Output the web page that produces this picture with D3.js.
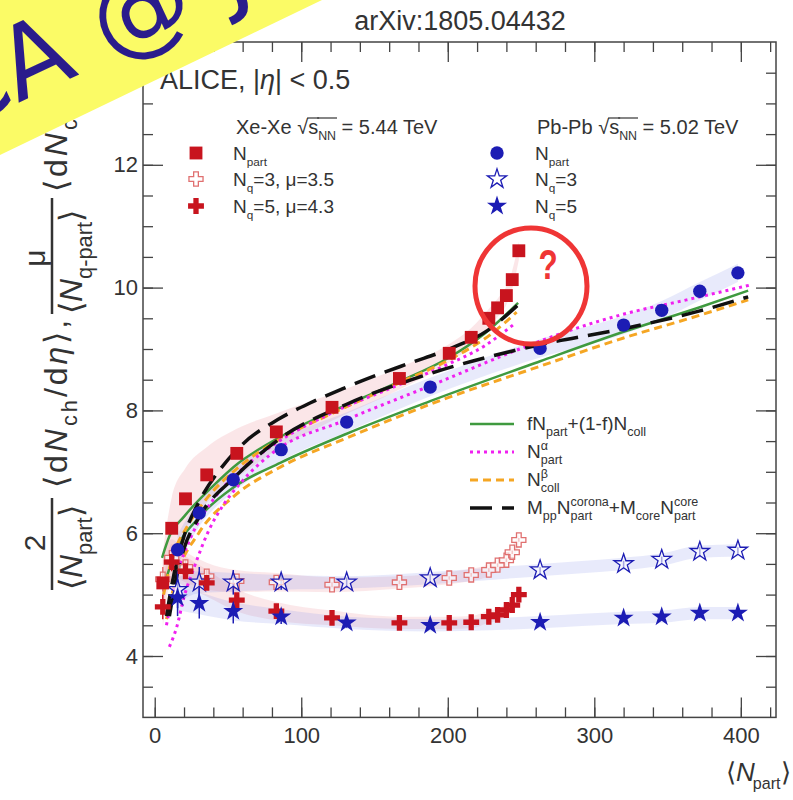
<!DOCTYPE html>
<html>
<head>
<meta charset="utf-8">
<script src="https://cdn.jsdelivr.net/npm/d3@7"></script>
<style>
  body { margin: 0; background: #fff; }
  text { font-family: "Liberation Sans", Arial, sans-serif; fill: #333; white-space: pre; }
</style>
</head>
<body>
<div id="chart"></div>
<script>
// ---- data ----
// Xe-Xe points (shared <Npart> for the three series)
const xeNpart = [5.5, 11.6, 21, 35.5, 56, 83, 121, 167, 201, 216, 228, 234, 240, 244, 248.5];
const xePart  = [5.19, 6.08, 6.56, 6.95, 7.3, 7.65, 8.05, 8.52, 8.93, 9.19, 9.5, 9.67, 9.87, 10.13, 10.6];
const xePartSys = [0.5, 0.5, 0.5, 0.45, 0.4, 0.3, 0.22, 0.18, 0.15, 0.15, 0.15, 0.15, 0.15, 0.15, 0.15];
const xeNq3   = [5.25, 5.6, 5.45, 5.3, 5.22, 5.2, 5.16, 5.2, 5.27, 5.32, 5.4, 5.48, 5.56, 5.69, 5.89];
const xeNq5   = [4.8, 5.53, 5.38, 5.19, 4.91, 4.73, 4.62, 4.54, 4.54, 4.55, 4.64, 4.67, 4.75, 4.83, 5.0];
const xeNqSys = [0.35, 0.3, 0.25, 0.22, 0.18, 0.15, 0.12, 0.1, 0.1, 0.1, 0.1, 0.1, 0.1, 0.1, 0.1];
const xeNqErr = [0.2, 0.15, 0.12, 0.1, 0.08, 0.06, 0.04, 0.03, 0.03, 0.03, 0.03, 0.03, 0.03, 0.03, 0.03];

// Pb-Pb points
const pbNpart = [15.6, 30.4, 53.6, 86.3, 131, 188, 263, 320, 346, 372, 398];
const pbPart  = [5.73, 6.33, 6.87, 7.36, 7.81, 8.38, 9.01, 9.39, 9.63, 9.94, 10.24];
const pbPartSys = [0.25, 0.22, 0.2, 0.18, 0.16, 0.15, 0.15, 0.15, 0.15, 0.15, 0.15];
const pbNq3   = [5.08, 5.2, 5.2, 5.2, 5.2, 5.27, 5.4, 5.5, 5.57, 5.7, 5.72];
const pbNq5   = [4.95, 4.86, 4.73, 4.64, 4.54, 4.5, 4.55, 4.62, 4.64, 4.7, 4.7];
const pbNqSys = [0.2, 0.18, 0.15, 0.12, 0.1, 0.1, 0.1, 0.1, 0.1, 0.1, 0.1];
const pbNqErr = [0.3, 0.25, 0.2, 0.12, 0.08, 0.06, 0.05, 0.05, 0.05, 0.08, 0.05];

// model curves
const pbGreenX  = [7, 15, 30, 54, 86, 131, 188, 263, 320, 372, 405];
const pbGreenY  = [5.2, 5.75, 6.25, 6.75, 7.15, 7.62, 8.15, 8.8, 9.28, 9.68, 9.95];
const pbMagX    = [10, 15, 20, 27, 37, 46, 59, 80, 131, 188, 249, 283, 322, 363, 406];
const pbMagY    = [4.15, 4.47, 4.96, 5.45, 6.05, 6.43, 6.83, 7.3, 7.85, 8.4, 9.0, 9.3, 9.58, 9.8, 10.04];
const pbOrangeX = [8, 15, 30, 54, 86, 131, 188, 263, 320, 372, 405];
const pbOrangeY = [4.6, 5.3, 6.0, 6.6, 7.08, 7.55, 8.1, 8.72, 9.18, 9.55, 9.8];
const pbBlackX  = [10, 15, 20, 30, 54, 86, 131, 188, 263, 320, 372, 405];
const pbBlackY  = [4.65, 5.3, 5.75, 6.25, 6.9, 7.55, 8.1, 8.6, 9.07, 9.33, 9.62, 9.85];

const xeGreenX  = [5, 10, 20, 39, 57, 70, 100, 130, 165, 200, 225, 248];
const xeGreenY  = [5.6, 5.95, 6.27, 6.75, 7.14, 7.35, 7.75, 8.08, 8.45, 8.85, 9.25, 9.75];
const xeMagX    = [8, 15, 25, 40, 60, 85, 120, 165, 200, 225, 245];
const xeMagY    = [4.5, 5.3, 5.95, 6.55, 7.05, 7.5, 7.95, 8.4, 8.75, 9.05, 9.4];
const xeOrangeX = [6, 12, 22, 35, 56, 83, 121, 167, 203, 230, 247];
const xeOrangeY = [5.0, 5.6, 6.1, 6.55, 7.05, 7.5, 7.95, 8.45, 8.85, 9.25, 9.6];
const xeBlackX  = [8, 12, 20, 30, 45, 60, 84, 106, 128, 151, 174, 201, 227, 248];
const xeBlackY  = [4.65, 5.2, 5.95, 6.5, 7.05, 7.45, 7.85, 8.12, 8.35, 8.57, 8.77, 9.0, 9.3, 9.72];

const xTicks = [0, 100, 200, 300, 400];
const yTicks = [4, 6, 8, 10, 12];

// ---- setup ----
const W = 793, H = 800;
const svg = d3.select('#chart').append('svg').attr('width', W).attr('height', H);

const x = d3.scaleLinear().domain([-8, 424]).range([143, 776]);
const y = d3.scaleLinear().domain([3, 14]).range([717.4, 42]);

const red = '#c8141e', blue = '#1c1cb4';

// text pieces laid out one after another (sub/superscripts, overlines)
function rich(g, x0, y0, parts, size, opt) {
  opt = opt || {};
  const ratio = opt.ratio || 0.62;
  let cx = x0, held = 0;
  parts.forEach(p => {
    const small = p.sub || p.sup;
    const fs = small ? size * ratio : size;
    const dy = p.sub ? size * 0.3 : (p.sup ? -size * 0.42 : 0);
    cx += p.dx || 0;
    const t = g.append('text').attr('x', cx).attr('y', y0 + dy)
      .attr('font-size', fs).text(p.t);
    if (opt.ls) t.attr('letter-spacing', opt.ls);
    if (p.it) t.attr('font-style', 'italic');
    const w = t.node().getComputedTextLength();
    if (p.over) {
      g.append('line').attr('x1', cx - 1).attr('x2', cx + w + 1)
        .attr('y1', y0 - size * 0.8).attr('y2', y0 - size * 0.8)
        .attr('stroke', '#333').attr('stroke-width', 1.2);
    }
    if (p.hold) { held = w; }
    else { cx += Math.max(w, held); held = 0; }
  });
  return cx;
}

// ---- bands ----
function band(xs, ys, errs, color) {
  const pts = xs.map((d, i) => [d, ys[i], errs[i]]);
  svg.append('path').datum(pts)
    .attr('fill', color)
    .attr('d', d3.area().curve(d3.curveMonotoneX)
      .x(d => x(d[0])).y0(d => y(d[1] - d[2])).y1(d => y(d[1] + d[2])));
}
band(xeNpart, xePart, xePartSys, 'rgba(235,140,150,0.22)');
band(pbNpart, pbPart, pbPartSys, 'rgba(140,150,235,0.2)');
band(xeNpart, xeNq3, xeNqSys, 'rgba(235,140,150,0.2)');
band(xeNpart, xeNq5, xeNqSys, 'rgba(235,140,150,0.2)');
band(pbNpart, pbNq3, pbNqSys, 'rgba(140,150,235,0.2)');
band(pbNpart, pbNq5, pbNqSys, 'rgba(140,150,235,0.2)');

// ---- model curves ----
const styles = {
  green:  { stroke: '#3f9a3f', w: 2.5, dash: null },
  mag:    { stroke: '#f020f0', w: 3, dash: '3,4' },
  orange: { stroke: '#f5a623', w: 3, dash: '8,5' },
  black:  { stroke: '#111', w: 3.5, dash: '22,10' }
};
function curve(xs, ys, st) {
  const pts = xs.map((d, i) => [d, ys[i]]);
  svg.append('path').datum(pts)
    .attr('fill', 'none').attr('stroke', st.stroke).attr('stroke-width', st.w)
    .attr('stroke-dasharray', st.dash)
    .attr('d', d3.line().curve(d3.curveMonotoneX).x(d => x(d[0])).y(d => y(d[1])));
}
curve(pbGreenX, pbGreenY, styles.green);
curve(xeGreenX, xeGreenY, styles.green);
curve(pbOrangeX, pbOrangeY, styles.orange);
curve(xeOrangeX, xeOrangeY, styles.orange);
curve(pbMagX, pbMagY, styles.mag);
curve(xeMagX, xeMagY, styles.mag);
curve(pbBlackX, pbBlackY, styles.black);
curve(xeBlackX, xeBlackY, styles.black);

// ---- markers ----
const mk = {
  square: d3.symbol().type(d3.symbolSquare).size(165)(),
  circle: d3.symbol().type(d3.symbolCircle).size(140)(),
  star:   d3.symbol().type(d3.symbolStar).size(125)(),
  ostar:  d3.symbol().type(d3.symbolStar).size(115)(),
  cross:  d3.symbol().type(d3.symbolCross).size(140)(),
  ocross: d3.symbol().type(d3.symbolCross).size(110)()
};
function errbars(xs, ys, errs, color) {
  svg.append('g').selectAll('line').data(xs).join('line')
    .attr('x1', d => x(d)).attr('x2', d => x(d))
    .attr('y1', (d, i) => y(ys[i] - errs[i])).attr('y2', (d, i) => y(ys[i] + errs[i]))
    .attr('stroke', color).attr('stroke-width', 1.5);
}
function points(xs, ys, shape, fill, stroke) {
  svg.append('g').selectAll('path').data(xs).join('path')
    .attr('d', mk[shape])
    .attr('transform', (d, i) => `translate(${x(d)},${y(ys[i])})`)
    .attr('fill', fill).attr('stroke', stroke || 'none').attr('stroke-width', 1.3);
}
errbars(pbNpart, pbNq3, pbNqErr, blue);
errbars(pbNpart, pbNq5, pbNqErr, blue);
errbars(xeNpart, xeNq3, xeNqErr, '#e07070');
errbars(xeNpart, xeNq5, xeNqErr, red);
points(xeNpart, xeNq3, 'ocross', 'rgba(255,255,255,0.6)', '#e07070');
points(pbNpart, pbNq3, 'ostar', 'rgba(255,255,255,0.6)', blue);
points(xeNpart, xeNq5, 'cross', red);
points(pbNpart, pbNq5, 'star', blue);
points(pbNpart, pbPart, 'circle', blue);
points(xeNpart, xePart, 'square', red);

// ---- frame and axes ----
const frame = svg.append('g');
frame.append('rect').attr('x', 143).attr('y', 42).attr('width', 633).attr('height', 675.4)
  .attr('fill', 'none').attr('stroke', '#444').attr('stroke-width', 1.5);

const xMinor = d3.range(0, 424, 20);
const yMinor = d3.range(3.5, 14, 0.5);
function ax(axis, tr, vals, size, labels) {
  const g = frame.append('g').attr('transform', tr)
    .call(axis.tickValues(vals).tickSizeInner(-size).tickSizeOuter(0)
      .tickPadding(labels ? 10 : 0).tickFormat(labels ? d3.format('d') : ''));
  g.select('.domain').remove();
  g.selectAll('line').attr('stroke', '#444').attr('stroke-width', 1.3);
  g.selectAll('text').attr('font-size', 22).attr('fill', '#333')
    .style('font-family', '"Liberation Sans", Arial, sans-serif');
  return g;
}
ax(d3.axisBottom(x), 'translate(0,717.4)', xMinor, 10, false);
ax(d3.axisBottom(x), 'translate(0,717.4)', xTicks, 20, true);
ax(d3.axisTop(x), 'translate(0,42)', xMinor, 10, false);
ax(d3.axisTop(x), 'translate(0,42)', xTicks, 20, false);
ax(d3.axisLeft(y), 'translate(143,0)', yMinor, 10, false);
ax(d3.axisLeft(y), 'translate(143,0)', yTicks, 20, true).selectAll('text').attr('x', -5);
ax(d3.axisRight(y), 'translate(776,0)', yMinor, 10, false);
ax(d3.axisRight(y), 'translate(776,0)', yTicks, 20, false);

// x axis title
const xt = svg.append('g');
rich(xt, 726, 781, [{ t: '⟨' }, { t: 'N', it: 1 }, { t: 'part', sub: 1, dx: -2 }, { t: '⟩' }], 26);

// y axis title (rotated)
const yt = svg.append('g').attr('transform', 'rotate(-90)');
yt.append('text').attr('x', -543).attr('y', 45).attr('text-anchor', 'middle').attr('font-size', 30).text('2');
yt.append('line').attr('x1', -590).attr('x2', -498).attr('y1', 52).attr('y2', 52)
  .attr('stroke', '#333').attr('stroke-width', 2.5);
rich(yt, -590, 82, [{ t: '⟨' }, { t: 'N', it: 1 }, { t: 'part', sub: 1 }, { t: '⟩' }], 32, { ratio: 0.68 });
rich(yt, -488, 67, [{ t: '⟨d' }, { t: 'N', it: 1 }, { t: 'ch', sub: 1 }, { t: '/d' }, { t: 'η', it: 1 }, { t: '⟩,' }], 32, { ratio: 0.68, ls: 3 });
yt.append('text').attr('x', -258).attr('y', 45).attr('text-anchor', 'middle').attr('font-size', 30).text('μ');
yt.append('line').attr('x1', -314).attr('x2', -198).attr('y1', 52).attr('y2', 52)
  .attr('stroke', '#333').attr('stroke-width', 2.5);
rich(yt, -314, 82, [{ t: '⟨' }, { t: 'N', it: 1 }, { t: 'q-part', sub: 1 }, { t: '⟩' }], 32, { ratio: 0.68 });
rich(yt, -192, 67, [{ t: '⟨d' }, { t: 'N', it: 1 }, { t: 'ch', sub: 1 }, { t: '/d' }, { t: 'η', it: 1 }, { t: '⟩' }], 32, { ratio: 0.68, ls: 3 });

// title and labels
svg.append('text').attr('x', 460).attr('y', 30).attr('text-anchor', 'middle')
  .attr('font-size', 27).text('arXiv:1805.04432');
rich(svg, 160, 89, [{ t: 'ALICE, |' }, { t: 'η', it: 1 }, { t: '| < 0.5' }], 27);

// ---- legends ----
const lg = svg.append('g');
rich(lg, 236, 134, [{ t: 'Xe-Xe ' }, { t: '√' }, { t: 's', over: 1 }, { t: 'NN', sub: 1, over: 1 }, { t: ' = 5.44 TeV' }], 20);
rich(lg, 537, 134, [{ t: 'Pb-Pb ' }, { t: '√' }, { t: 's', over: 1 }, { t: 'NN', sub: 1, over: 1 }, { t: ' = 5.02 TeV' }], 20);
const legRows = [153, 179, 206];
const xeLeg = [
  [{ t: 'N' }, { t: 'part', sub: 1 }],
  [{ t: 'N' }, { t: 'q', sub: 1 }, { t: '=3, μ=3.5' }],
  [{ t: 'N' }, { t: 'q', sub: 1 }, { t: '=5, μ=4.3' }]
];
const pbLeg = [
  [{ t: 'N' }, { t: 'part', sub: 1 }],
  [{ t: 'N' }, { t: 'q', sub: 1 }, { t: '=3' }],
  [{ t: 'N' }, { t: 'q', sub: 1 }, { t: '=5' }]
];
const xeShapes = [['square', red], ['ocross', 'rgba(255,255,255,0.6)', '#e07070'], ['cross', red]];
const pbShapes = [['circle', blue], ['ostar', 'rgba(255,255,255,0.6)', blue], ['star', blue]];
legRows.forEach((ry, i) => {
  lg.append('path').attr('d', mk[xeShapes[i][0]]).attr('transform', `translate(196,${ry})`)
    .attr('fill', xeShapes[i][1]).attr('stroke', xeShapes[i][2] || 'none').attr('stroke-width', 1.3);
  rich(lg, 233, ry + 7, xeLeg[i], 19);
  lg.append('path').attr('d', mk[pbShapes[i][0]]).attr('transform', `translate(497,${ry})`)
    .attr('fill', pbShapes[i][1]).attr('stroke', pbShapes[i][2] || 'none').attr('stroke-width', 1.3);
  rich(lg, 535, ry + 7, pbLeg[i], 19);
});

const modelRows = [424, 452, 480, 508];
const modelKeys = ['green', 'mag', 'orange', 'black'];
const modelText = [
  [{ t: 'fN' }, { t: 'part', sub: 1 }, { t: '+(1-f)N' }, { t: 'coll', sub: 1 }],
  [{ t: 'N' }, { t: 'α', sup: 1, hold: 1 }, { t: 'part', sub: 1 }],
  [{ t: 'N' }, { t: 'β', sup: 1, hold: 1 }, { t: 'coll', sub: 1 }],
  [{ t: 'M' }, { t: 'pp', sub: 1 }, { t: 'N' }, { t: 'corona', sup: 1, hold: 1 }, { t: 'part', sub: 1 },
   { t: '+M' }, { t: 'core', sub: 1 }, { t: 'N' }, { t: 'core', sup: 1, hold: 1 }, { t: 'part', sub: 1 }]
];
modelRows.forEach((ry, i) => {
  const st = styles[modelKeys[i]];
  lg.append('line').attr('x1', 470).attr('x2', 514).attr('y1', ry).attr('y2', ry)
    .attr('stroke', st.stroke).attr('stroke-width', st.w).attr('stroke-dasharray', st.dash);
  rich(lg, 527, ry + 6, modelText[i], 19, { ratio: 0.66 });
});

// ---- annotations on top ----
svg.append('ellipse').attr('cx', 531).attr('cy', 286).attr('rx', 56).attr('ry', 58)
  .attr('fill', 'none').attr('stroke', '#ef3535').attr('stroke-width', 5);
svg.append('text').attr('transform', 'translate(548,279) scale(0.75,1)').attr('text-anchor', 'middle')
  .attr('font-size', 42).attr('font-weight', 'bold').style('fill', '#ef3535').text('?');

const defs = svg.append('defs');
defs.append('clipPath').attr('id', 'bannerClip').append('polygon').attr('points', '0,0 322,0 0,155');
svg.append('polygon').attr('points', '0,0 322,0 0,155').attr('fill', '#fbfb66');
const banner = svg.append('g').attr('clip-path', 'url(#bannerClip)')
  .append('g').attr('transform', 'translate(18,103) rotate(-25)')
  .append('text').attr('x', 0).attr('y', 0)
  .attr('font-size', 100).style('font-family', '"DejaVu Sans", sans-serif')
  .style('fill', '#2a1c8c').text('NICA @ JINR');
// put the start of the "A" at the group origin
banner.attr('x', -banner.node().getStartPositionOfChar(3).x);
</script>
</body>
</html>
